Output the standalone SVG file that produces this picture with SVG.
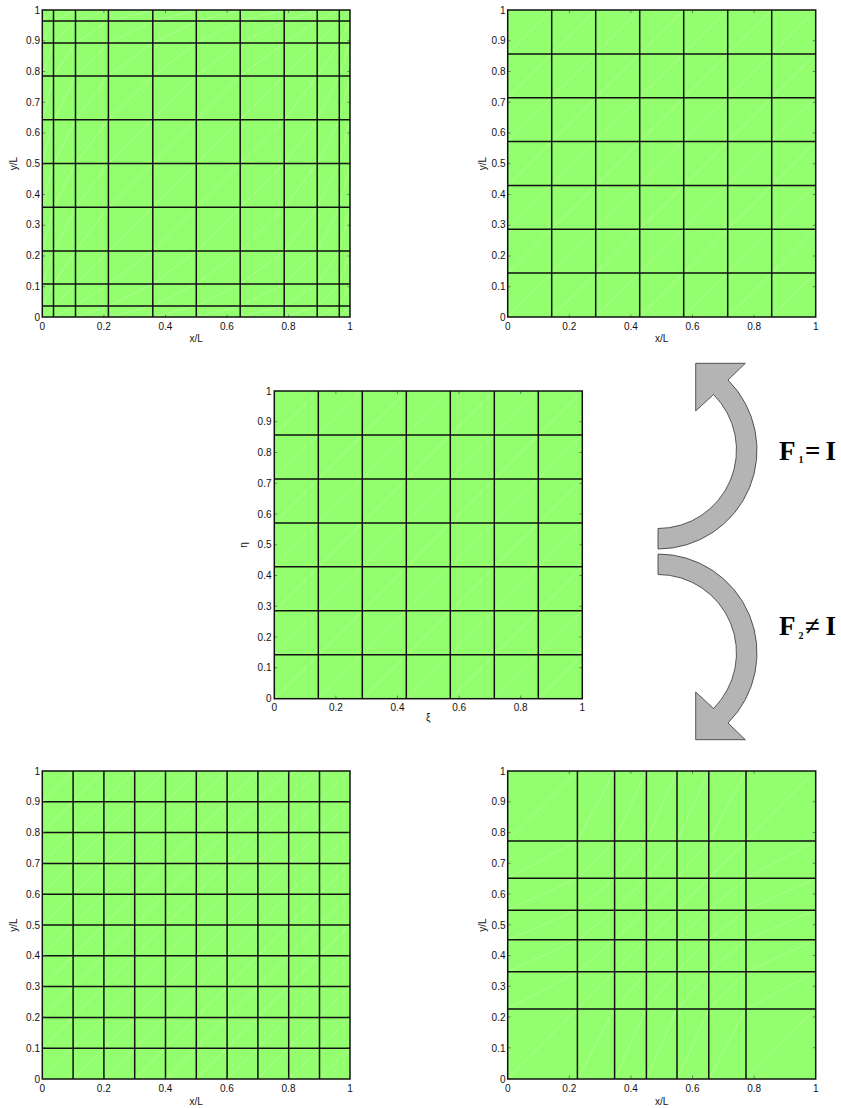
<svg xmlns="http://www.w3.org/2000/svg" xmlns:xlink="http://www.w3.org/1999/xlink" width="841" height="1108" viewBox="0 0 841 1108">
<style>
.bg{fill:#93ff6f}
.grid{fill:none;stroke:#111;stroke-width:1.5}
.frame{fill:none;stroke:#111;stroke-width:1.5}
.tick{fill:none;stroke:#444;stroke-width:0.6}
.diag{fill:none;stroke:#fff;stroke-opacity:0.4;stroke-width:0.6}
.t{font-family:"Liberation Sans",Arial,sans-serif;font-size:10px;fill:#111}
.ye{text-anchor:end}
.xm{text-anchor:middle}
.arrow{fill:#b4b4b4;stroke:#333;stroke-width:0.8}
.f{font-family:"Liberation Serif","Times New Roman",serif;font-weight:bold;fill:#000}
</style>
<defs>
<path id="tk" class="tick" d="M0 30.75h3M0 61.5h3M0 92.25h3M0 123h3M0 153.75h3M0 184.5h3M0 215.25h3M0 246h3M0 276.75h3M308 30.75h-3M308 61.5h-3M308 92.25h-3M308 123h-3M308 153.75h-3M308 184.5h-3M308 215.25h-3M308 246h-3M308 276.75h-3M61.6 307.5v-3M123.2 307.5v-3M184.8 307.5v-3M246.4 307.5v-3M61.6 0v3M123.2 0v3M184.8 0v3M246.4 0v3"/>
<path id="dTL" class="diag" vector-effect="non-scaling-stroke" d="M42.3 1L53.5 0M53.5 1L75.5 0M75.5 1L108.4 0M108.4 1L152.8 0M152.8 1L196.3 0M196.3 1L240.2 0M240.2 1L284.2 0M284.2 1L317.2 0M317.2 1L339.3 0M339.3 1L350 0"/>
<path id="dBR" class="diag" vector-effect="non-scaling-stroke" d="M507.7 1L577.4 0M577.4 1L614.6 0M614.6 1L646.4 0M646.4 1L677 0M677 1L708.8 0M708.8 1L746 0M746 1L815.7 0"/>
<pattern id="pTR" patternUnits="userSpaceOnUse" x="507.7" y="10" width="44" height="43.857"><path class="diag" d="M0 43.857L44 0"/></pattern>
<pattern id="pC" patternUnits="userSpaceOnUse" x="274.3" y="391" width="44" height="43.957"><path class="diag" d="M0 43.957L44 0"/></pattern>
<pattern id="pBL" patternUnits="userSpaceOnUse" x="42.3" y="771" width="30.77" height="30.8"><path class="diag" d="M0 30.8L30.77 0"/></pattern>
</defs>

<g id="plot-top-left">
<rect class="bg" x="42.3" y="10" width="307.7" height="307"/>
<use xlink:href="#dTL" transform="translate(0 10) scale(1 11.1)"/>
<use xlink:href="#dTL" transform="translate(0 21.1) scale(1 21.9)"/>
<use xlink:href="#dTL" transform="translate(0 43) scale(1 33)"/>
<use xlink:href="#dTL" transform="translate(0 76) scale(1 43.7)"/>
<use xlink:href="#dTL" transform="translate(0 119.7) scale(1 43.8)"/>
<use xlink:href="#dTL" transform="translate(0 163.5) scale(1 43.8)"/>
<use xlink:href="#dTL" transform="translate(0 207.3) scale(1 43.7)"/>
<use xlink:href="#dTL" transform="translate(0 251) scale(1 33)"/>
<use xlink:href="#dTL" transform="translate(0 284) scale(1 21.9)"/>
<use xlink:href="#dTL" transform="translate(0 305.9) scale(1 11.1)"/>
<path class="grid" d="M53.5 10V317M75.5 10V317M108.4 10V317M152.8 10V317M196.3 10V317M240.2 10V317M284.2 10V317M317.2 10V317M339.3 10V317M42.3 21.1H350M42.3 43H350M42.3 76H350M42.3 119.7H350M42.3 163.5H350M42.3 207.3H350M42.3 251H350M42.3 284H350M42.3 305.9H350"/>
<use xlink:href="#tk" transform="translate(42.3 10)"/>
<rect class="frame" x="42.3" y="10" width="307.7" height="307"/>
<g class="t ye">
<text x="40" y="320.5">0</text><text x="40" y="289.8">0.1</text><text x="40" y="259.1">0.2</text><text x="40" y="228.4">0.3</text><text x="40" y="197.7">0.4</text><text x="40" y="167">0.5</text><text x="40" y="136.3">0.6</text><text x="40" y="105.6">0.7</text><text x="40" y="74.9">0.8</text><text x="40" y="44.2">0.9</text><text x="40" y="13.5">1</text>
</g>
<g class="t xm">
<text x="42.3" y="329.5">0</text><text x="103.8" y="329.5">0.2</text><text x="165.4" y="329.5">0.4</text><text x="226.9" y="329.5">0.6</text><text x="288.5" y="329.5">0.8</text><text x="350" y="329.5">1</text>
<text x="196.2" y="342">x/L</text>
<text transform="translate(17 163.5) rotate(-90)">y/L</text>
</g>
</g>

<g id="plot-top-right">
<rect class="bg" x="507.7" y="10" width="308" height="307"/>
<rect x="507.7" y="10" width="308" height="307" fill="url(#pTR)"/>
<path class="grid" d="M551.7 10V317M595.7 10V317M639.7 10V317M683.7 10V317M727.7 10V317M771.7 10V317M507.7 53.9H815.7M507.7 97.7H815.7M507.7 141.6H815.7M507.7 185.4H815.7M507.7 229.3H815.7M507.7 273.1H815.7"/>
<use xlink:href="#tk" transform="translate(507.7 10)"/>
<rect class="frame" x="507.7" y="10" width="308" height="307"/>
<g class="t ye">
<text x="505.5" y="320.5">0</text><text x="505.5" y="289.8">0.1</text><text x="505.5" y="259.1">0.2</text><text x="505.5" y="228.4">0.3</text><text x="505.5" y="197.7">0.4</text><text x="505.5" y="167">0.5</text><text x="505.5" y="136.3">0.6</text><text x="505.5" y="105.6">0.7</text><text x="505.5" y="74.9">0.8</text><text x="505.5" y="44.2">0.9</text><text x="505.5" y="13.5">1</text>
</g>
<g class="t xm">
<text x="507.7" y="329.5">0</text><text x="569.3" y="329.5">0.2</text><text x="630.9" y="329.5">0.4</text><text x="692.5" y="329.5">0.6</text><text x="754.1" y="329.5">0.8</text><text x="815.7" y="329.5">1</text>
<text x="661.7" y="342">x/L</text>
<text transform="translate(485.5 163.5) rotate(-90)">y/L</text>
</g>
</g>

<g id="plot-center">
<rect class="bg" x="274.3" y="391" width="308" height="307.7"/>
<rect x="274.3" y="391" width="308" height="307.7" fill="url(#pC)"/>
<path class="grid" d="M318.3 391V698.7M362.3 391V698.7M406.3 391V698.7M450.3 391V698.7M494.3 391V698.7M538.3 391V698.7M274.3 435H582.3M274.3 478.9H582.3M274.3 522.9H582.3M274.3 566.8H582.3M274.3 610.8H582.3M274.3 654.8H582.3"/>
<use xlink:href="#tk" transform="translate(274.3 391)"/>
<rect class="frame" x="274.3" y="391" width="308" height="307.7"/>
<g class="t ye">
<text x="271.5" y="702.2">0</text><text x="271.5" y="671.4">0.1</text><text x="271.5" y="640.7">0.2</text><text x="271.5" y="609.9">0.3</text><text x="271.5" y="579.1">0.4</text><text x="271.5" y="548.4">0.5</text><text x="271.5" y="517.6">0.6</text><text x="271.5" y="486.8">0.7</text><text x="271.5" y="456">0.8</text><text x="271.5" y="425.3">0.9</text><text x="271.5" y="394.5">1</text>
</g>
<g class="t xm">
<text x="274.3" y="711">0</text><text x="335.9" y="711">0.2</text><text x="397.5" y="711">0.4</text><text x="459.1" y="711">0.6</text><text x="520.7" y="711">0.8</text><text x="582.3" y="711">1</text>
<text x="428.3" y="721">ξ</text>
<text transform="translate(247 545) rotate(-90)">η</text>
</g>
</g>

<g id="plot-bottom-left">
<rect class="bg" x="42.3" y="771" width="307.7" height="308"/>
<rect x="42.3" y="771" width="307.7" height="308" fill="url(#pBL)"/>
<path class="grid" d="M73.1 771V1079M103.9 771V1079M134.7 771V1079M165.5 771V1079M196.3 771V1079M227.1 771V1079M257.9 771V1079M288.7 771V1079M319.5 771V1079M42.3 801.8H350M42.3 832.6H350M42.3 863.4H350M42.3 894.2H350M42.3 925H350M42.3 955.8H350M42.3 986.6H350M42.3 1017.4H350M42.3 1048.2H350"/>
<use xlink:href="#tk" transform="translate(42.3 771)"/>
<rect class="frame" x="42.3" y="771" width="307.7" height="308"/>
<g class="t ye">
<text x="40" y="1082.5">0</text><text x="40" y="1051.7">0.1</text><text x="40" y="1020.9">0.2</text><text x="40" y="990.1">0.3</text><text x="40" y="959.3">0.4</text><text x="40" y="928.5">0.5</text><text x="40" y="897.7">0.6</text><text x="40" y="866.9">0.7</text><text x="40" y="836.1">0.8</text><text x="40" y="805.3">0.9</text><text x="40" y="774.5">1</text>
</g>
<g class="t xm">
<text x="42.3" y="1091.5">0</text><text x="103.8" y="1091.5">0.2</text><text x="165.4" y="1091.5">0.4</text><text x="226.9" y="1091.5">0.6</text><text x="288.5" y="1091.5">0.8</text><text x="350" y="1091.5">1</text>
<text x="196.2" y="1104.5">x/L</text>
<text transform="translate(17 925) rotate(-90)">y/L</text>
</g>
</g>

<g id="plot-bottom-right">
<rect class="bg" x="507.7" y="771" width="308" height="308"/>
<use xlink:href="#dBR" transform="translate(0 771) scale(1 70)"/>
<use xlink:href="#dBR" transform="translate(0 841) scale(1 37.2)"/>
<use xlink:href="#dBR" transform="translate(0 878.2) scale(1 32)"/>
<use xlink:href="#dBR" transform="translate(0 910.2) scale(1 29.6)"/>
<use xlink:href="#dBR" transform="translate(0 939.8) scale(1 32)"/>
<use xlink:href="#dBR" transform="translate(0 971.8) scale(1 37.2)"/>
<use xlink:href="#dBR" transform="translate(0 1009) scale(1 70)"/>
<path class="grid" d="M577.4 771V1079M614.6 771V1079M646.4 771V1079M677 771V1079M708.8 771V1079M746 771V1079M507.7 841H815.7M507.7 878.2H815.7M507.7 910.2H815.7M507.7 939.8H815.7M507.7 971.8H815.7M507.7 1009H815.7"/>
<use xlink:href="#tk" transform="translate(507.7 771)"/>
<rect class="frame" x="507.7" y="771" width="308" height="308"/>
<g class="t ye">
<text x="505.5" y="1082.5">0</text><text x="505.5" y="1051.7">0.1</text><text x="505.5" y="1020.9">0.2</text><text x="505.5" y="990.1">0.3</text><text x="505.5" y="959.3">0.4</text><text x="505.5" y="928.5">0.5</text><text x="505.5" y="897.7">0.6</text><text x="505.5" y="866.9">0.7</text><text x="505.5" y="836.1">0.8</text><text x="505.5" y="805.3">0.9</text><text x="505.5" y="774.5">1</text>
</g>
<g class="t xm">
<text x="507.7" y="1091.5">0</text><text x="569.3" y="1091.5">0.2</text><text x="630.9" y="1091.5">0.4</text><text x="692.5" y="1091.5">0.6</text><text x="754.1" y="1091.5">0.8</text><text x="815.7" y="1091.5">1</text>
<text x="661.7" y="1104.5">x/L</text>
<text transform="translate(485.5 925) rotate(-90)">y/L</text>
</g>
</g>

<g id="connectors">
<path id="arrow-f1" class="arrow" d="M658 549A99 99 0 0 0 728 380L745.3 363.3L695.7 363.3L695.7 411L713.5 394.5A78.5 78.5 0 0 1 658 528.5Z"/>
<path id="arrow-f2" class="arrow" d="M658 554A99 99 0 0 1 728 723L745.3 739.7L695.7 739.7L695.7 692L713.5 708.5A78.5 78.5 0 0 0 658 574.5Z"/>
</g>

<g id="label-f1" class="f">
<text x="779" y="459.5" font-size="27">F</text>
<text x="798.5" y="463" font-size="10">1</text>
<text x="805" y="459.5" font-size="27">=</text>
<text x="825.5" y="459.5" font-size="27">I</text>
</g>
<g id="label-f2" class="f">
<text x="779" y="635" font-size="27">F</text>
<text x="798.5" y="638.5" font-size="10">2</text>
<text x="805" y="635" font-size="27">≠</text>
<text x="825.5" y="635" font-size="27">I</text>
</g>
</svg>
